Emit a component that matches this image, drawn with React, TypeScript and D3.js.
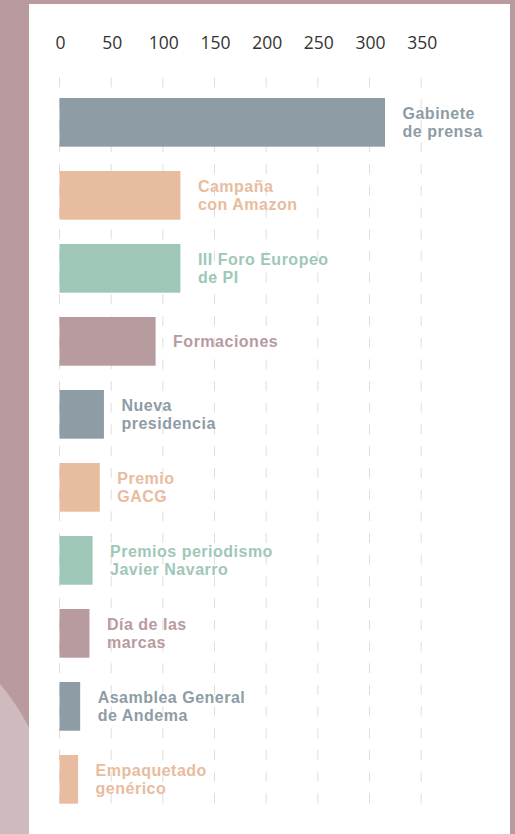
import React from "react";
import * as d3 from "d3";

const categories: string[][] = [
  ["Gabinete", "de prensa"],
  ["Campaña", "con Amazon"],
  ["III Foro Europeo", "de PI"],
  ["Formaciones"],
  ["Nueva", "presidencia"],
  ["Premio", "GACG"],
  ["Premios periodismo", "Javier Navarro"],
  ["Día de las", "marcas"],
  ["Asamblea General", "de Andema"],
  ["Empaquetado", "genérico"],
];
const values: number[] = [315, 117, 117, 93, 43, 39, 32, 29, 20, 18];
const barColors: string[] = ["#8e9ca5", "#e8bc9e", "#9fc7b8", "#b89b9e"];
const tickValues: number[] = [0, 50, 100, 150, 200, 250, 300, 350];

const W = 515;
const H = 834;

export default function App() {
  const x = d3.scaleLinear().domain([0, 350]).range([59.5, 421.2]);
  const y = d3
    .scaleBand<number>()
    .domain(d3.range(values.length))
    .range([98, 803.7])
    .paddingInner(0.333)
    .paddingOuter(0);
  const bw = y.bandwidth();
  const gridTop = 66;
  const gridBottom = 806;

  return (
    <svg
      width={W}
      height={H}
      style={{ position: "absolute", left: 0, top: 0, display: "block" }}
    >
      <rect x={0} y={0} width={W} height={H} fill="#b99b9f" />
      <circle cx={-165} cy={825} r={217} fill="#cfbbbe" />
      <rect x={29} y={4} width={481} height={H} fill="#ffffff" />

      {tickValues.map((t) => (
        <g key={t}>
          <line
            x1={x(t)}
            x2={x(t)}
            y1={gridTop}
            y2={gridBottom}
            stroke="#dedede"
            strokeWidth={1}
            strokeDasharray="10 11.7"
            strokeDashoffset={10.4}
          />
          <text
            x={x(t) + 1}
            y={49}
            textAnchor="middle"
            fontFamily="'Open Sans', sans-serif"
            fontSize={17.5}
            fill="#333333"
          >
            {t}
          </text>
        </g>
      ))}

      {values.map((v, i) => {
        const color = barColors[i % barColors.length];
        const y0 = y(i) as number;
        const cy = y0 + bw / 2;
        const lines = categories[i];
        return (
          <g key={i}>
            <rect
              x={x(0)}
              y={y0}
              width={x(v) - x(0)}
              height={bw}
              fill={color}
            />
            {lines.map((ln, j) => (
              <text
                key={j}
                x={x(v) + 17.5}
                y={cy + 5.5 + (j - (lines.length - 1) / 2) * 18}
                fontFamily="'Liberation Sans', Arial, sans-serif"
                fontWeight={700}
                fontSize={16}
                letterSpacing={0.5}
                fill={color}
              >
                {ln}
              </text>
            ))}
          </g>
        );
      })}
    </svg>
  );
}
